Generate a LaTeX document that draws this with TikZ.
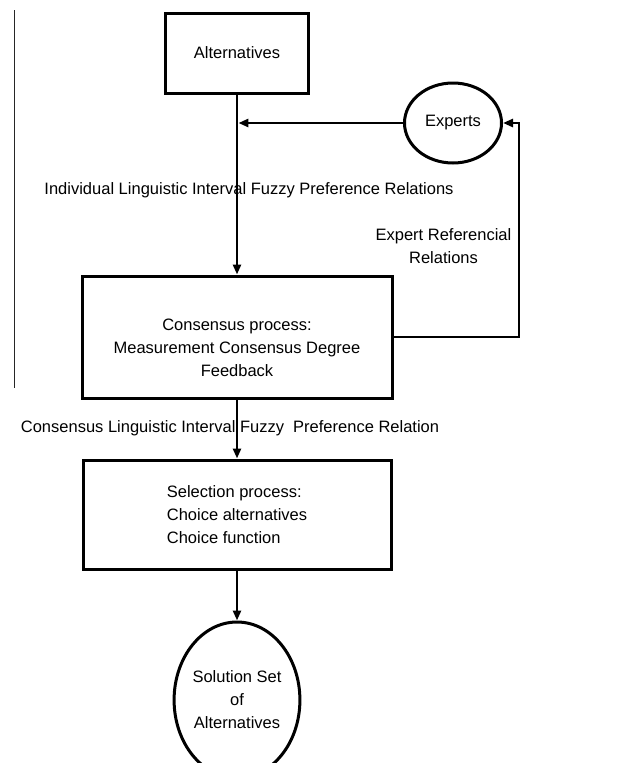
\documentclass[tikz,border=0pt]{standalone}
\usepackage{fontspec}
\setmainfont{Liberation Sans}
\usetikzlibrary{arrows.meta,positioning,shapes.geometric}

\begin{document}
\begin{tikzpicture}[x=1pt,y=-1pt,>={Stealth[length=10pt,width=8pt,inset=0pt]},
    font=\fontsize{16.5}{23}\selectfont,
    block/.style={draw,rectangle,line width=3pt,align=center,inner sep=0pt},
    oval/.style={draw,ellipse,line width=3pt,align=center,inner sep=0pt},
    flow/.style={->,line width=2.8pt}]
    \useasboundingbox (0,0) rectangle (629,763);
    \draw[line width=0.9pt,black!85] (14,10) -- (14,388);
    \node[block,minimum width=143pt,minimum height=80pt] (alt) at (237,53) {Alternatives};
    \node[block,minimum width=310pt,minimum height=122pt] (cons) [below=180pt of alt] {\rule{0pt}{33pt}Consensus process:\\Measurement Consensus Degree\\Feedback};
    \node[block,minimum width=308pt,minimum height=109pt,align=left] (sel) [below=59pt of cons] {Selection process:\\Choice alternatives\\Choice function};
    \node[oval,minimum width=119pt,minimum height=156pt] (sol) [below=50pt of sel] {Solution Set\\of\\Alternatives};
    \node[oval,minimum width=97pt,minimum height=80pt] (exp) at (453,123) {Experts};
    \node (indiv) at (249,190) {Individual Linguistic Interval Fuzzy Preference Relations};
    \node[align=center] (ref) at (443.5,246.5) {Expert Referencial\\Relations};
    \node (collective) at (230,428) {Consensus Linguistic Interval Fuzzy\ \ Preference Relation};
    \draw[flow] (alt) -- (cons);
    \draw[flow] (cons) -- (sel);
    \draw[flow] (sel) -- (sol);
    \draw[flow,shorten >=1.4pt] (exp) -- (exp -| alt);
    \draw[flow] (cons.east) -| ([xshift=16pt]exp.east) -- (exp.east);
\end{tikzpicture}
\end{document}
